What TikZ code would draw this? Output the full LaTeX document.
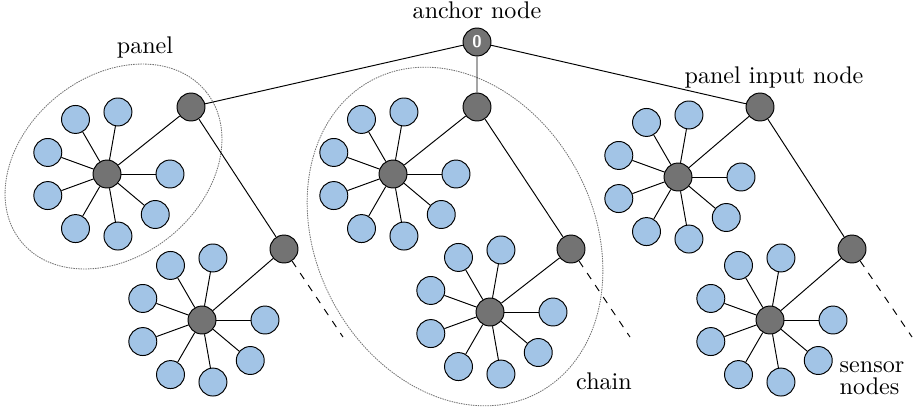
\documentclass[tikz,border=0pt]{standalone}
\usetikzlibrary{positioning}
\definecolor{hubgray}{RGB}{115,115,115}
\definecolor{sensorblue}{RGB}{162,196,230}

\begin{document}
\begin{tikzpicture}[x=0.415pt,y=0.415pt,
  hub/.style={circle,draw,fill=hubgray,minimum size=11.6pt,inner sep=0pt},
  sensor/.style={circle,draw,fill=sensorblue,minimum size=11.6pt,inner sep=0pt},
  group/.style={draw=black!55,dash pattern=on 0.6pt off 0.4pt,line width=0.35pt}]
\useasboundingbox (0,0) rectangle (913,411);

% outlines of one panel and one chain
\draw[group,rotate around={39:(113.5,244.5)}] (113.5,244.5) ellipse (119 and 90);
\draw[group,rotate around={-62:(455,174.5)}] (455,174.5) ellipse (177 and 138.5);

\node[hub,text=white,font=\scriptsize\sffamily\bfseries] (root) at (477,369) {0};
\node[above=0pt of root] (rootlabel) {anchor node};

% chain no. / input x top, bottom / hub top / hub bottom / dash end x
\foreach \c/\ta/\tb/\hax/\hay/\hbx/\hby/\ex in
  {1/191/284/107/237/202/91/343, 2/477/571/393/237/490/99/630, 3/760/852/678/234/770/91/912}
{
  \node[hub] (in\c-a) at (\ta,304) {};
  \node[hub] (in\c-b) at (\tb,162) {};
  \node[hub] (hub\c-a) at (\hax,\hay) {};
  \node[hub] (hub\c-b) at (\hbx,\hby) {};
  \coordinate (end\c) at (\ex,74);
  \draw (root) -- (in\c-a) -- (in\c-b);
  \draw[dashed] (in\c-b) -- (end\c);
  \draw (in\c-a) -- (hub\c-a);
  \draw (in\c-b) -- (hub\c-b);
  \foreach \h in {hub\c-a,hub\c-b}
    \foreach \a in {0,80,120,160,200,240,280,320}
    {
      \node[sensor] (\h-\a) at ([shift={(\a:63)}]\h) {};
      \draw (\h) -- (\h-\a);
    }
}

\node (panellabel) at (145,364) {panel};
\node (inputlabel) at (774,334) {panel input node};
\node (chainlabel) at (604,30) {chain};
\node[align=left] (sensorlabel) at (872,33) {sensor\\[-3pt]nodes};

\end{tikzpicture}
\end{document}
